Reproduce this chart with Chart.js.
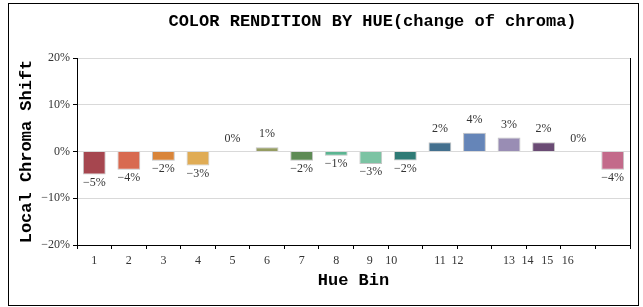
<!DOCTYPE html>
<html>
<head>
<meta charset="utf-8">
<script src="https://cdn.jsdelivr.net/npm/chart.js@4/dist/chart.umd.min.js"></script>
<style>
  html, body { margin: 0; padding: 0; background: #fff; }
  #frame { position: absolute; left: 8px; top: 3px; width: 629px; height: 301px; border: 1px solid #000; }
  canvas { display: block; }
</style>
</head>
<body>
<div id="frame"><canvas id="grafico" width="629" height="301"></canvas></div>
<script>
// datos
const hueBins = ['1','2','3','4','5','6','7','8','9','10','11','12','13','14','15','16'];
const chromaShift = [-4.9, -3.9, -2, -3, 0, 0.9, -2, -0.9, -2.7, -1.9, 2, 4, 3, 2, 0, -3.9];
const barColors = ['#a6464f','#d86a50','#d9853a','#e0ac55','#cccccc','#959c62','#5e8b55','#5cb592',
                   '#7cc3a3','#2f7b76','#44708e','#6585b8','#998db4','#6a4b74','#cccccc','#c36a8a'];
const yTicks = [-20, -10, 0, 10, 20];
const chartTitle = 'COLOR RENDITION BY HUE(change of chroma)';

// desplazamiento (px) de algunas etiquetas del eje x, como en el original
const labelNudge = [0, 0, 0, 0, 0, 0, 0, 0, -1, -14, 0, -17, 0, -16, -31, -45];

const serif = '"Liberation Serif", "DejaVu Serif", serif';
const mono = '"Liberation Mono", "DejaVu Sans Mono", monospace';

const extras = {
  id: 'extras',
  afterDraw(chart) {
    const { ctx, chartArea, scales } = chart;
    ctx.save();
    // borde derecho del area
    ctx.strokeStyle = '#000';
    ctx.lineWidth = 1;
    ctx.beginPath();
    ctx.moveTo(Math.round(chartArea.right) + 0.5, chartArea.top);
    ctx.lineTo(Math.round(chartArea.right) + 0.5, chartArea.bottom);
    ctx.stroke();

    // titulo
    ctx.fillStyle = '#000';
    ctx.font = 'bold 17px ' + mono;
    ctx.textAlign = 'center';
    ctx.textBaseline = 'middle';
    ctx.fillText(chartTitle, (chartArea.left + chartArea.right) / 2 + 19, 18);

    // etiquetas del eje x
    ctx.font = '12px ' + serif;
    ctx.fillStyle = '#333';
    ctx.textBaseline = 'top';
    hueBins.forEach((lab, i) => {
      ctx.fillText(lab, scales.x.getPixelForValue(i) + labelNudge[i], scales.x.top + 10);
    });

    // valores de las barras
    const meta = chart.getDatasetMeta(0);
    const zero = scales.y.getPixelForValue(0);
    meta.data.forEach((bar, i) => {
      const v = chromaShift[i];
      const txt = Math.round(v) + '%';
      if (v >= 0) {
        ctx.textBaseline = 'bottom';
        ctx.fillText(txt, bar.x, Math.min(bar.y, zero) - 7);
      } else {
        ctx.textBaseline = 'top';
        ctx.fillText(txt.replace('-', '\u2212'), bar.x, bar.y + 2);
      }
    });
    ctx.restore();
  }
};

const chart = new Chart(document.getElementById('grafico'), {
  type: 'bar',
  data: {
    labels: hueBins,
    datasets: [{
      label: 'Local Chroma Shift',
      data: chromaShift,
      backgroundColor: barColors,
      borderColor: 'rgba(190,190,190,0.9)',
      borderWidth: 1,
      barPercentage: 0.66,
      categoryPercentage: 1
    }]
  },
  options: {
    responsive: false,
    animation: false,
    layout: { padding: { top: 54, right: 8, left: 0, bottom: 0 } },
    plugins: {
      legend: { display: false },
      tooltip: { enabled: false }
    },
    scales: {
      x: {
        grid: { drawOnChartArea: false, offset: true, tickLength: 4, tickColor: '#000' },
        border: { color: '#000', width: 1 },
        ticks: { display: false },
        title: {
          display: true, text: 'Hue Bin', color: '#000',
          font: { family: mono, size: 17, weight: 'bold' },
          padding: { top: 0, bottom: 14 }
        },
        afterFit(scale) { scale.height = 60; }
      },
      y: {
        min: -20, max: 20,
        afterBuildTicks(scale) { scale.ticks = yTicks.map(v => ({ value: v })); },
        grid: { color: '#d9d9d9', tickLength: 4, tickColor: '#000' },
        border: { color: '#000', width: 1 },
        ticks: {
          color: '#333', padding: 3,
          font: { family: serif, size: 12 },
          callback: v => (v < 0 ? '\u2212' + Math.abs(v) : v) + '%'
        },
        title: {
          display: true, text: 'Local Chroma Shift', color: '#000',
          font: { family: mono, size: 17, weight: 'bold' },
          padding: { top: 8, bottom: 0 }
        },
        afterFit(scale) { scale.width = 68; }
      }
    }
  },
  plugins: [extras]
});
</script>
</body>
</html>
